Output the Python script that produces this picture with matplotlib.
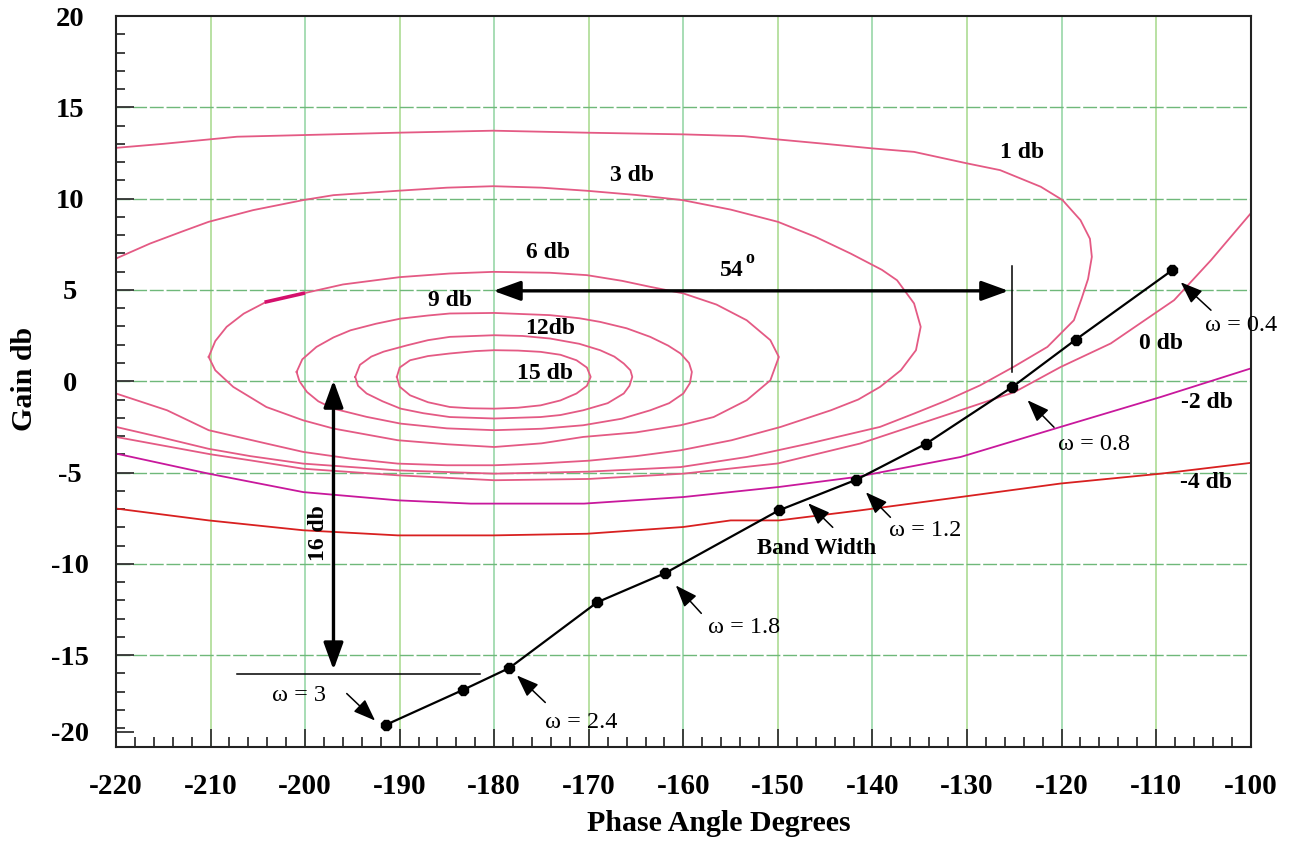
import matplotlib
matplotlib.use('Agg')
import matplotlib.pyplot as plt
from matplotlib.ticker import MultipleLocator, FixedLocator, FixedFormatter

plt.rcParams['font.family'] = ['Liberation Serif', 'DejaVu Serif']
plt.rcParams['axes.unicode_minus'] = False

# ---------------- data (phase deg, gain dB) ----------------
m15_x = [-190.3, -190.0, -188.9, -187.0, -184.7, -182.0, -180.0, -177.5, -175.1, -173.0, -171.3, -170.2, -169.8,
         -170.2, -171.3, -173.0, -175.1, -177.5, -180.0, -182.5, -184.7, -187.0, -188.9, -190.0, -190.3]
m15_y = [0.24, 0.75, 1.15, 1.38, 1.52, 1.65, 1.70, 1.68, 1.61, 1.45, 1.15, 0.75, 0.24,
         -0.25, -0.67, -1.05, -1.32, -1.45, -1.50, -1.48, -1.41, -1.15, -0.77, -0.30, 0.24]

m12_x = [-194.7, -194.2, -193.0, -191.7, -189.2, -187.0, -184.7, -180.0, -177.0, -174.1, -171.0, -168.8, -167.3,
         -166.3, -165.6, -165.4, -165.7, -166.3, -168.0, -170.6, -173.0, -175.1, -180.0, -184.7, -187.5, -189.9,
         -191.8, -193.5, -194.4, -194.7]
m12_y = [0.24, 0.90, 1.35, 1.62, 1.97, 2.25, 2.43, 2.52, 2.48, 2.34, 2.05, 1.70, 1.35,
         0.97, 0.60, 0.24, -0.25, -0.67, -1.20, -1.59, -1.85, -1.96, -2.04, -1.96, -1.75, -1.50,
         -1.10, -0.67, -0.25, 0.24]

m9_x = [-200.9, -200.3, -198.8, -197.0, -195.2, -192.5, -189.9, -187.0, -184.7, -180.0, -174.1, -171.0, -168.8,
        -166.0, -163.5, -161.6, -160.3, -159.4, -159.1, -159.3, -160.0, -161.5, -163.5, -166.5, -170.6, -175.0,
        -180.0, -185.0, -189.9, -193.5, -197.0, -198.6, -199.8, -200.6, -200.9]
m9_y = [0.51, 1.20, 1.88, 2.40, 2.79, 3.15, 3.43, 3.60, 3.71, 3.74, 3.62, 3.45, 3.25,
        2.90, 2.43, 1.95, 1.52, 1.00, 0.51, -0.10, -0.67, -1.20, -1.59, -2.05, -2.41, -2.60,
        -2.68, -2.58, -2.32, -1.95, -1.50, -1.10, -0.59, 0.00, 0.51]

m6_x = [-210.2, -209.5, -208.3, -206.5, -204.1, -200.2, -196.0, -190.0, -184.7, -180.1, -174.1, -170.2, -166.5,
        -163.5, -160.0, -156.5, -153.3, -150.8, -149.9, -150.8, -153.3, -156.8, -160.3, -165.0, -170.6, -175.0,
        -180.0, -185.0, -190.2, -197.0, -200.2, -204.1, -207.6, -209.5, -210.2]
m6_y = [1.33, 2.20, 2.98, 3.70, 4.35, 4.81, 5.30, 5.70, 5.90, 5.99, 5.94, 5.81, 5.50,
        5.17, 4.81, 4.20, 3.34, 2.25, 1.33, 0.05, -1.04, -1.96, -2.41, -2.80, -3.05, -3.40,
        -3.60, -3.45, -3.23, -2.59, -2.14, -1.41, -0.31, 0.60, 1.33]

m3_x = [-220.0, -216.4, -213.0, -210.2, -205.5, -200.2, -197.0, -190.2, -185.0, -180.1, -175.0, -170.2, -165.0,
        -160.1, -155.0, -150.0, -146.0, -142.3, -139.0, -137.4, -135.6, -134.9, -135.4, -137.0, -139.2, -141.5,
        -144.4, -149.7, -154.9, -160.3, -165.0, -170.0, -175.0, -180.0, -185.0, -190.2, -195.0, -200.2, -204.1,
        -210.2, -214.6, -220.0]
m3_y = [6.72, 7.54, 8.20, 8.73, 9.37, 9.92, 10.19, 10.43, 10.60, 10.68, 10.60, 10.43, 10.20,
        9.92, 9.40, 8.73, 7.90, 6.99, 6.10, 5.53, 4.26, 2.98, 1.70, 0.60, -0.31, -1.00,
        -1.59, -2.50, -3.23, -3.78, -4.10, -4.35, -4.50, -4.60, -4.60, -4.51, -4.25, -3.87, -3.41,
        -2.68, -1.59, -0.67]

m1_x = [-220.0, -215.0, -210.2, -207.2, -200.2, -190.2, -180.1, -170.2, -160.1, -153.6, -150.0, -145.0, -140.0,
        -135.6, -130.0, -126.5, -122.2, -119.9, -118.0, -117.0, -116.8, -117.2, -117.9, -118.7, -121.5, -125.1,
        -128.6, -132.1, -135.6, -139.2, -146.7, -153.3, -160.3, -170.0, -180.0, -190.2, -200.2, -205.8, -210.2,
        -215.0, -220.0]
m1_y = [12.78, 13.00, 13.24, 13.39, 13.48, 13.61, 13.72, 13.61, 13.52, 13.42, 13.24, 13.00, 12.75,
        12.56, 11.93, 11.56, 10.65, 9.92, 8.82, 7.80, 6.81, 5.60, 4.50, 3.34, 1.88, 0.78,
        -0.22, -1.04, -1.77, -2.50, -3.41, -4.15, -4.70, -4.95, -5.06, -4.88, -4.51, -4.10, -3.70,
        -3.10, -2.50]

m0_x = [-220.0, -210.0, -205.8, -200.2, -190.2, -180.0, -170.0, -160.0, -150.0, -141.3, -130.7, -125.0, -120.1,
        -114.8, -108.1, -104.2, -100.0]
m0_y = [-3.05, -4.00, -4.33, -4.79, -5.15, -5.42, -5.35, -5.06, -4.50, -3.41, -1.59, -0.60, 0.78,
        2.07, 4.44, 6.63, 9.19]

mm2_x = [-220.0, -210.2, -200.2, -190.2, -182.5, -170.5, -160.0, -149.9, -141.7, -130.7, -120.1, -109.5, -100.0]
mm2_y = [-3.96, -5.06, -6.07, -6.52, -6.70, -6.70, -6.34, -5.79, -5.24, -4.15, -2.50, -0.86, 0.70]

mm4_x = [-220.0, -210.2, -200.2, -190.2, -180.1, -170.2, -160.0, -155.0, -149.9, -141.3, -130.7, -120.1, -109.5, -100.0]
mm4_y = [-6.97, -7.62, -8.16, -8.44, -8.44, -8.35, -7.98, -7.62, -7.62, -7.07, -6.34, -5.60, -5.06, -4.47]

# open-loop frequency response points
nic_phase = [-191.4, -183.3, -178.4, -169.1, -161.9, -149.9, -141.7, -134.3, -125.2, -118.5, -108.3]
nic_gain = [-18.8, -16.9, -15.7, -12.1, -10.5, -7.07, -5.39, -3.41, -0.31, 2.28, 6.08]

# contour labels: text, phase, gain
contour_labels = [("1 db", -124.2, 12.55), ("3 db", -165.4, 11.29), ("6 db", -174.3, 7.07),
                  ("9 db", -184.7, 4.44), ("12db", -174.1, 2.90), ("15 db", -174.6, 0.44),
                  ("0 db", -109.5, 2.08), ("-2 db", -104.6, -1.15), ("-4 db", -104.7, -5.53)]

# frequency annotations: text, text pos (left, centre), arrow tail, arrow head
freq_labels = [("\u03c9 = 0.4", -104.8, 3.07, (-104.2, 3.89), (-107.4, 5.42)),
               ("\u03c9 = 0.8", -120.4, -3.45, (-120.8, -2.52), (-123.6, -1.04)),
               ("\u03c9 = 1.2", -138.2, -8.16, (-138.1, -7.45), (-140.7, -6.08)),
               ("\u03c9 = 1.8", -157.4, -13.48, (-158.1, -12.71), (-160.8, -11.18)),
               ("\u03c9 = 2.4", -174.6, -18.68, (-174.6, -17.59), (-177.6, -16.11)),
               ("\u03c9 = 3", -203.5, -17.2, (-195.6, -17.10), (-192.6, -18.58))]
bw_label = ("Band Width", -152.2, -9.15, (-144.2, -8.0), (-146.8, -6.68))

# phase-margin and gain-margin constructions
pm_y, pm_x0, pm_x1 = 4.95, -180.1, -125.6
pm_tick_x, pm_tick_y0, pm_tick_y1 = -125.2, 6.3, 0.5
gm_x, gm_y0, gm_y1 = -197.0, 0.05, -15.8
gm_line_y, gm_line_x0, gm_line_x1 = -16.05, -207.2, -181.5

xticks = list(range(-220, -99, 10))
xticks_lab = [str(v) for v in xticks]
yticks_pos = [-19.2, -15, -10, -5, 0, 5, 10, 15, 20]
yticks_lab = ['-20', '-15', '-10', '-5', '0', '5', '10', '15', '20']

# ---------------- figure ----------------
W, H = 1309, 843
fig = plt.figure(figsize=(W / 100, H / 100), dpi=100)
L, R, T, B = 116, 1250.7, 16, 746.5
ax = fig.add_axes([L / W, 1 - B / H, (R - L) / W, (B - T) / H])
ax.set_xlim(-220, -100)
ax.set_ylim(-20, 20)

# grid
for i, x in enumerate(xticks[1:-1]):
    ax.axvline(x, color='#8fd3a0' if i % 2 else '#a6d98a', lw=1.1, zorder=0)
for y in [-15, -10, -5, 0, 5, 10, 15]:
    ax.axhline(y, color='#6fb87a', lw=1.0, dashes=(10, 2), zorder=0)

pink = '#e45a84'
for xs, ys in [(m15_x, m15_y), (m12_x, m12_y), (m9_x, m9_y), (m6_x, m6_y),
               (m3_x, m3_y), (m1_x, m1_y), (m0_x, m0_y)]:
    ax.plot(xs, ys, color=pink, lw=1.3, zorder=2)
# short heavier stroke on the 6 dB contour (as in the original drawing)
ax.plot(m6_x[4:6], m6_y[4:6], color='#d4106c', lw=2.6, zorder=2)
ax.plot(mm2_x, mm2_y, color='#c8189c', lw=1.3, zorder=2)
ax.plot(mm4_x, mm4_y, color='#d82020', lw=1.3, zorder=2)

ax.plot(nic_phase, nic_gain, color='black', lw=1.6, marker='8', ms=7.5, zorder=5)

fs_lab = 17
for txt, x, y in contour_labels:
    ax.text(x, y, txt, ha='center', va='center', fontsize=fs_lab, fontweight='bold', zorder=6)

arrow_small = dict(arrowstyle='-|>,head_length=0.45,head_width=0.17', mutation_scale=30,
                   lw=1.1, color='black', shrinkA=0, shrinkB=0)
for txt, x, y, tail, head in freq_labels:
    ax.text(x, y, txt, ha='left', va='center', fontsize=17.5, zorder=6)
    ax.annotate('', xy=head, xytext=tail, arrowprops=arrow_small, zorder=6)
txt, x, y, tail, head = bw_label
ax.text(x, y, txt, ha='left', va='center', fontsize=16.5, fontweight='bold', zorder=6)
ax.annotate('', xy=head, xytext=tail, arrowprops=arrow_small, zorder=6)

arrow_big = dict(arrowstyle='<|-|>,head_length=0.55,head_width=0.2', mutation_scale=30,
                 lw=2.4, color='black', shrinkA=0, shrinkB=0)
ax.annotate('', xy=(pm_x1, pm_y), xytext=(pm_x0, pm_y), arrowprops=arrow_big, zorder=7)
ax.plot([pm_tick_x, pm_tick_x], [pm_tick_y0, pm_tick_y1], color='black', lw=1.1, zorder=7)
ax.text(-156.1, 6.08, "54", ha='left', va='center', fontsize=fs_lab, fontweight='bold', zorder=7)
ax.text(-153.4, 6.7, "o", ha='left', va='center', fontsize=13, fontweight='bold', zorder=7)

ax.annotate('', xy=(gm_x, gm_y0), xytext=(gm_x, gm_y1), arrowprops=arrow_big, zorder=7)
ax.plot([gm_line_x0, gm_line_x1], [gm_line_y, gm_line_y], color='black', lw=1.1, zorder=7)
ax.text(-198.6, -8.33, "16 db", rotation=90, ha='center', va='center', fontsize=fs_lab,
        fontweight='bold', zorder=7)

# axes styling
for s in ax.spines.values():
    s.set_color('#222222')
    s.set_linewidth(1.5)
ax.xaxis.set_major_locator(FixedLocator(xticks))
ax.xaxis.set_major_formatter(FixedFormatter(xticks_lab))
ax.xaxis.set_minor_locator(MultipleLocator(2))
ax.yaxis.set_major_locator(FixedLocator(yticks_pos))
ax.yaxis.set_major_formatter(FixedFormatter(yticks_lab))
ax.yaxis.set_minor_locator(MultipleLocator(1))
ax.tick_params(axis='x', which='major', direction='in', length=13, width=1.3, color='#333333',
               labelsize=21, pad=19)
ax.tick_params(axis='x', which='minor', direction='in', length=7, width=1.3, color='#333333')
ax.tick_params(axis='y', which='major', direction='in', length=13, width=1.3, color='#333333',
               labelsize=20.5, pad=33)
ax.tick_params(axis='y', which='minor', direction='in', length=6.5, width=1.3, color='#333333')
for lab in ax.get_xticklabels() + ax.get_yticklabels():
    lab.set_fontweight('bold')
for lab in ax.get_yticklabels():
    lab.set_ha('center')

ax.set_xlabel('Phase Angle Degrees', fontsize=21.5, fontweight='bold')
ax.xaxis.label.set_va('center')
ax.xaxis.set_label_coords(0.531, -0.105)
ax.set_ylabel('Gain db', fontsize=21.5, fontweight='bold')
ax.yaxis.label.set_va('center')
ax.yaxis.set_label_coords(-0.081, 0.503)

fig.savefig('out.png', dpi=100)
